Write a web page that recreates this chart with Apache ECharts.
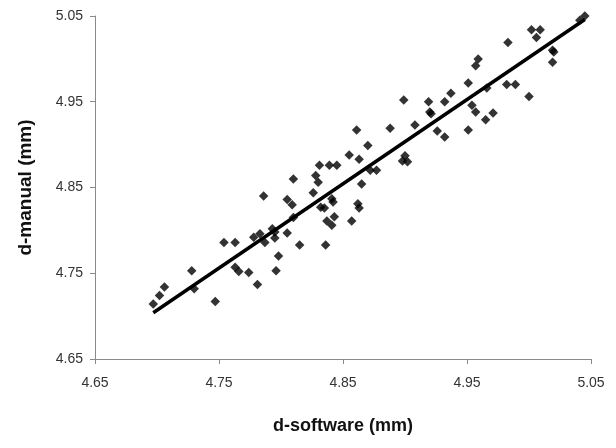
<!DOCTYPE html>
<html>
<head>
<meta charset="utf-8">
<script src="https://cdn.jsdelivr.net/npm/echarts@6/dist/echarts.min.js"></script>
<style>
html,body{margin:0;padding:0;background:#fff;}
#main{width:616px;height:448px;}
</style>
</head>
<body>
<div id="main"></div>
<script>
var xTicks = [4.65, 4.75, 4.85, 4.95, 5.05];
var yTicks = [4.65, 4.75, 4.85, 4.95, 5.05];
var dSoftware = [4.697,4.702,4.706,4.728,4.730,4.747,4.754,4.763,4.763,4.766,4.774,4.781,4.796,4.798,
  4.778,4.783,4.787,4.793,4.795,4.795,4.805,4.786,4.805,4.809,4.810,4.810,4.815,4.836,4.826,4.828,
  4.830,4.831,4.839,4.845,4.841,4.842,4.832,4.835,4.862,4.863,4.843,4.837,4.841,4.857,4.855,4.863,
  4.861,4.870,4.872,4.877,4.865,4.888,4.898,4.900,4.902,4.899,4.908,4.919,4.920,4.921,4.926,4.932,
  4.932,4.937,4.951,4.951,4.954,4.957,4.959,4.957,4.965,4.971,4.966,4.982,4.989,5.000,4.983,5.002,
  5.009,5.006,5.019,5.020,5.019,5.045,5.041];
var dManual = [4.714,4.724,4.734,4.753,4.732,4.717,4.786,4.786,4.757,4.752,4.751,4.737,4.753,4.770,
  4.792,4.796,4.786,4.802,4.798,4.791,4.797,4.840,4.836,4.830,4.860,4.815,4.783,4.783,4.844,4.864,
  4.856,4.876,4.876,4.876,4.837,4.833,4.827,4.826,4.831,4.826,4.816,4.811,4.806,4.811,4.888,4.883,
  4.917,4.899,4.870,4.870,4.854,4.919,4.881,4.887,4.880,4.952,4.923,4.950,4.938,4.936,4.916,4.909,
  4.950,4.960,4.972,4.917,4.946,4.938,5.000,4.992,4.929,4.937,4.966,4.970,4.970,4.956,5.019,5.034,
  5.034,5.025,5.010,5.008,4.996,5.050,5.045];
var fitX = [4.697, 5.045];
var fitY = [4.704, 5.046];

var points = dSoftware.map(function(v, i){ return [v, dManual[i]]; });
var fit = fitX.map(function(v, i){ return [v, fitY[i]]; });

var chart = echarts.init(document.getElementById('main'));
var axisCommon = {
  type: 'value', min: 4.65, max: 5.05, interval: 0.1,
  nameLocation: 'middle',
  nameTextStyle: {fontFamily: 'Liberation Sans, Arial', fontSize: 18, fontWeight: 'bold', color: '#111'},
  axisLine: {show: true, lineStyle: {color: '#8a8a8a', width: 1}},
  axisTick: {show: true, length: 5, lineStyle: {color: '#8a8a8a'}},
  splitLine: {show: false},
  axisLabel: {fontFamily: 'Liberation Sans, Arial', fontSize: 14, color: '#333',
    formatter: function(v){ return v.toFixed(2); }}
};
chart.setOption({
  animation: false,
  backgroundColor: '#fff',
  grid: {left: 95, right: 25, top: 16, bottom: 89},
  xAxis: Object.assign({}, axisCommon, {name: 'd-software (mm)', nameGap: 58,
    axisLabel: Object.assign({}, axisCommon.axisLabel, {margin: 17})}),
  yAxis: Object.assign({}, axisCommon, {name: 'd-manual (mm)', nameGap: 60,
    nameTextStyle: Object.assign({}, axisCommon.nameTextStyle, {fontSize: 19}),
    axisLabel: Object.assign({}, axisCommon.axisLabel, {margin: 12})}),
  series: [
    {type: 'scatter', data: points, symbol: 'diamond', symbolSize: 9.5,
     itemStyle: {color: '#000'}, z: 2},
    {type: 'line', data: fit, symbol: 'none', lineStyle: {color: '#000', width: 3.5}, z: 3}
  ]
});
</script>
</body>
</html>
